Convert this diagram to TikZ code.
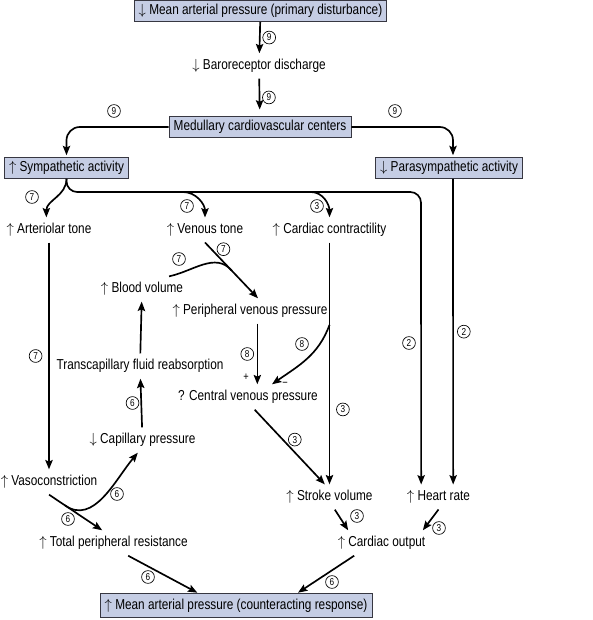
\documentclass[tikz,border=0pt]{standalone}
\usepackage{fontspec}
\setmainfont{Liberation Sans}[FakeStretch=0.82]
\usepackage{tikz}
\usetikzlibrary{arrows.meta, positioning, calc}
\usepackage{xcolor}
\definecolor{boxblue}{RGB}{197,205,228}
\definecolor{framegray}{RGB}{55,55,65}
\newcommand{\incr}{$\uparrow$}
\newcommand{\decr}{$\downarrow$}
\tikzstyle{box} = [rectangle, draw=framegray, fill=boxblue, line width=0.7pt, inner xsep=3.5pt, inner ysep=0pt, minimum height=15.5pt, font=\fontsize{10.8}{12}\selectfont]
\tikzstyle{txt} = [inner sep=1.5pt, outer sep=3pt, font=\fontsize{10.8}{12}\selectfont]
\tikzstyle{num} = [circle, draw, line width=0.5pt, inner sep=0pt, minimum size=9.6pt, font=\fontsize{7.5}{8}\selectfont]
\tikzstyle{arrow} = [-{Stealth[length=7pt, width=5.5pt, inset=1.2pt]}, line width=1.25pt]
\tikzstyle{line} = [line width=1.25pt]

\begin{document}
\begin{tikzpicture}[x=0.75pt, y=-0.75pt]
  \useasboundingbox (0,0) rectangle (592,620);

  % reflex chain at the top
  \node[box] (mapdown) at (260.5,11) {\decr\ Mean arterial pressure (primary disturbance)};
  \node[txt] (baro) at (259,66) {\decr\ Baroreceptor discharge};
  \node[box] (medulla) at (260,127) {Medullary cardiovascular centers};
  \node[box] (symp) at (66.5,168) {\incr\ Sympathetic activity};
  \node[box] (para) at (449,168) {\decr\ Parasympathetic activity};

  % effectors
  \node[txt] (arttone) at (49,230) {\incr\ Arteriolar tone};
  \node[txt] (ventone) at (205,230) {\incr\ Venous tone};
  \node[txt] (contract) at (329.5,230) {\incr\ Cardiac contractility};
  \node[txt] (bloodvol) at (142,289) {\incr\ Blood volume};
  \node[txt] (pvp) at (250,311) {\incr\ Peripheral venous pressure};
  \node[txt] (reabs) at (140,366) {Transcapillary fluid reabsorption};
  \node[txt] (cvp) at (248,397) {? Central venous pressure};
  \node[txt] (cappress) at (142.5,440) {\decr\ Capillary pressure};
  \node[txt] (vasocon) at (49,482) {\incr\ Vasoconstriction};
  \node[txt] (stroke) at (329.5,497) {\incr\ Stroke volume};
  \node[txt] (hrate) at (438.5,497) {\incr\ Heart rate};
  \node[txt] (tpr) at (113.5,543) {\incr\ Total peripheral resistance};
  \node[txt] (cardout) at (381.5,543) {\incr\ Cardiac output};
  \node[box, minimum height=18.5pt] (mapup) at (236,605.5) {\incr\ Mean arterial pressure (counteracting response)};

  % branch points on connectors
  \coordinate (vbranch) at (183,192);
  \coordinate (cbranch) at (311,192);
  \path (ventone.south) -- coordinate[pos=0.5] (merge) ([xshift=6pt]pvp.north);
  \path (contract) -- coordinate[pos=0.34] (cfork) (stroke);
  \path (vasocon.south) -- coordinate[pos=0.3] (vfork) ([xshift=-8.5pt]tpr.north);

  \draw[arrow] (mapdown) -- node[num, right=2pt] (c1) {9} (baro);
  \draw[arrow, shorten >=5pt] (baro) -- node[num, right=2pt] (c2) {9} (medulla);
  \draw[arrow, rounded corners=10pt, shorten >=1.5pt] (medulla.west) -| (symp.north);
  \draw[arrow, rounded corners=10pt, shorten >=1.5pt] (medulla.east) -| ([xshift=3pt]para.north);

  % sympathetic outflow
  \draw[arrow] (symp.south) to[out=-90, in=90] ([xshift=-2pt]arttone.north);
  \draw[arrow, rounded corners=8pt] (symp.south) |- (421,192) -- ([xshift=-13pt]hrate.north);
  \draw[arrow] (vbranch) to[out=0, in=90] (ventone.north);
  \draw[arrow] (cbranch) to[out=0, in=90] (contract.north);
  \draw[arrow] ([xshift=3pt]para.south) -- node[num, right=3pt] (c17) {2} ([xshift=11pt]hrate.north);

  % vessels and volume
  \draw[arrow] (arttone) -- node[num, left=5pt] (c8) {7} (vasocon);
  \draw[arrow] (ventone.south) -- node[num, pos=0.12, right=4pt] (c9) {7} ([xshift=6pt]pvp.north);
  \draw[line] ([xshift=-15pt]bloodvol.north east) to[out=12, in=131] (merge);
  \draw[arrow] (reabs) -- (bloodvol);
  \draw[arrow] (cappress) -- node[num, left=1.5pt] (c11) {6} (reabs);
  \draw[arrow] (vasocon.south) -- ([xshift=-8.5pt]tpr.north);
  \draw[arrow] (vfork) to[out=-35, in=-130] ([xshift=-3.5pt]cappress.south);

  % heart
  \draw[arrow] ([xshift=5.5pt]pvp.south) -- node[num, left=2.5pt] (c12) {8} ([xshift=5.5pt]pvp.south |- cvp.north);
  \draw[arrow] (contract) -- node[num, pos=0.69, right=5pt] (c13) {3} (stroke);
  \draw[arrow] (cfork) to[out=-110, in=35] ([xshift=18pt]cvp.north);
  \draw[arrow] ([xshift=5pt]cvp.south) -- node[num, pos=0.4, right=4pt] (c16) {3} ([xshift=-3.5pt]stroke.north);
  \draw[arrow] ([xshift=4pt]stroke.south) -- ([xshift=-25pt]cardout.north);
  \draw[arrow] (hrate.south) -- ([xshift=31pt]cardout.north);

  % back to pressure
  \draw[arrow] ([xshift=11pt]tpr.south) -- ([xshift=-29pt]mapup.north);
  \draw[arrow] ([xshift=-20.5pt]cardout.south) -- ([xshift=46.5pt]mapup.north);

  % free-standing labels
  \node[num] (c3) at (114,111) {9};
  \node[num] (c4) at (395,111) {9};
  \node[num] (c5) at (32,197) {7};
  \node[num] (c6) at (187,206) {7};
  \node[num] (c7) at (317,206) {3};
  \node[num] (c10) at (179,259) {7};
  \node[num] (c14) at (302,344) {8};
  \node[num] (c18) at (409,343) {2};
  \node[num] (c19) at (68,519) {6};
  \node[num] (c20) at (117,494) {6};
  \node[num] (c21) at (357,516) {3};
  \node[num] (c22) at (439,528) {3};
  \node[num] (c23) at (148,577) {6};
  \node[num] (c24) at (332,582) {6};
  \node[font=\fontsize{8.5}{9}\selectfont] (plus) at (246,377) {+};
  \node[font=\fontsize{8.5}{9}\selectfont] (minus) at (285,384) {−};
\end{tikzpicture}
\end{document}
